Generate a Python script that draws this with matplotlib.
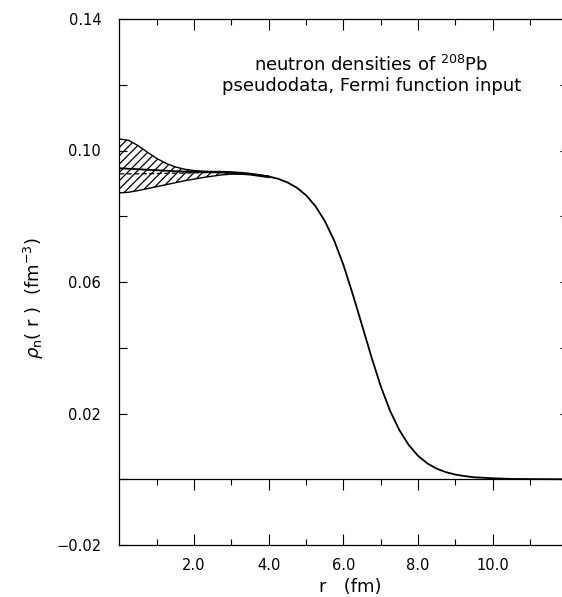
import matplotlib
matplotlib.use("Agg")
import matplotlib.pyplot as plt

plt.rcParams['font.family'] = ['DejaVu Sans']
plt.rcParams['hatch.linewidth'] = 0.9

# neutron density of 208Pb
r_curve = [0.0, 0.5, 1.0, 1.5, 2.0, 2.5, 3.0, 3.5, 4.0, 4.25, 4.5, 4.75, 5.0, 5.25,
           5.5, 5.75, 6.0, 6.25, 6.5, 6.75, 7.0, 7.25, 7.5, 7.75, 8.0, 8.25, 8.5,
           8.75, 9.0, 9.25, 9.5, 10.0, 10.5, 11.0, 12.0]
rho_curve = [0.0946, 0.0943, 0.0940, 0.0937, 0.0935, 0.0934, 0.0932, 0.0929, 0.0921,
             0.0914, 0.0903, 0.0887, 0.0864, 0.0831, 0.0786, 0.0727, 0.0652, 0.0563,
             0.0468, 0.0372, 0.0283, 0.0208, 0.0149, 0.0104, 0.0071, 0.0048, 0.0032,
             0.00215, 0.0014, 0.00095, 0.0006, 0.0003, 0.0001, 0.00005, 0.0]

# error band (hatched)
r_band = [0.0, 0.25, 0.5, 0.75, 1.0, 1.25, 1.5, 1.75, 2.0, 2.25, 2.5, 2.75, 3.0,
          3.25, 3.5, 3.75, 4.0]
rho_upper = [0.1035, 0.1031, 0.1015, 0.0995, 0.0976, 0.0961, 0.0950, 0.0943, 0.0939,
             0.0937, 0.0936, 0.0936, 0.0935, 0.0933, 0.0930, 0.0926, 0.0922]
rho_lower = [0.0871, 0.0873, 0.0878, 0.0884, 0.0890, 0.0896, 0.0902, 0.0908, 0.0913,
             0.0918, 0.0922, 0.0926, 0.0928, 0.0928, 0.0926, 0.0922, 0.0918]

# dashed line inside the band
r_dash = [0.0, 0.5, 1.0, 1.5, 2.0, 2.5, 3.0]
rho_dash = [0.0929, 0.0929, 0.0930, 0.0931, 0.0932, 0.0933, 0.0933]

xticks = [2.0, 4.0, 6.0, 8.0, 10.0]
xminor = [1.0, 3.0, 5.0, 7.0, 9.0, 11.0]
yticks = [-0.02, 0.02, 0.06, 0.10, 0.14]
yminor = [0.0, 0.04, 0.08, 0.12]

W, H = 562, 597
L, R, T, B = 119.3, 567.5, 19, 545  # axes box in pixels (right edge is cut off)

fig = plt.figure(figsize=(W / 100, H / 100), dpi=100)
ax = fig.add_axes([L / W, (H - B) / H, (R - L) / W, (B - T) / H])

ax.fill_between(r_band, rho_lower, rho_upper, facecolor='none', edgecolor='black',
                hatch='////', linewidth=0)
ax.plot(r_band, rho_upper, c='black', lw=1.0)
ax.plot(r_band, rho_lower, c='black', lw=1.0)
ax.plot(r_dash, rho_dash, c='black', lw=0.9, dashes=(4, 2))
ax.plot(r_curve, rho_curve, c='black', lw=1.3)

ax.set_xlim(0, 12)
ax.set_ylim(-0.02, 0.14)

ax.set_xticks(xticks)
ax.set_xticklabels([f'{v:.1f}' for v in xticks])
ax.set_xticks(xminor, minor=True)
ax.set_yticks(yticks)
ax.set_yticklabels([f'{v:.2f}'.replace('-', '\u2212') for v in yticks])
ax.set_yticks(yminor, minor=True)

ax.tick_params(axis='x', which='both', direction='in', top=True, bottom=True,
               labelsize=10.5, pad=9, width=0.8)
ax.tick_params(axis='x', which='major', length=8)
ax.tick_params(axis='x', which='minor', length=4)
ax.tick_params(axis='y', which='both', direction='in', left=True, right=True,
               labelsize=10.5, pad=13, length=6, width=0.8)
for s in ax.spines.values():
    s.set_linewidth(0.9)

# zero line with ticks hanging below it
zero = ax.secondary_xaxis(0.0, transform=ax.transData)
zero.set_xticks(xticks)
zero.set_xticks(xminor, minor=True)
zero.tick_params(which='both', direction='out', labelbottom=False, width=0.8)
zero.tick_params(which='major', length=8)
zero.tick_params(which='minor', length=4)
zero.spines['bottom'].set_linewidth(0.9)

ax.set_xlabel('r   (fm)', fontsize=13)
ax.xaxis.set_label_coords(0.515, -0.062)
ax.set_ylabel(r'$\rho_{\rm n}$( r )  (fm$^{-3}$)', fontsize=13)
ax.yaxis.set_label_coords(-0.163, 0.47)

ax.text(0.562, 0.913, r'neutron densities of $^{208}$Pb', transform=ax.transAxes,
        ha='center', va='center', fontsize=13)
ax.text(0.562, 0.872, 'pseudodata, Fermi function input', transform=ax.transAxes,
        ha='center', va='center', fontsize=13)

fig.savefig('out.png', dpi=100)
